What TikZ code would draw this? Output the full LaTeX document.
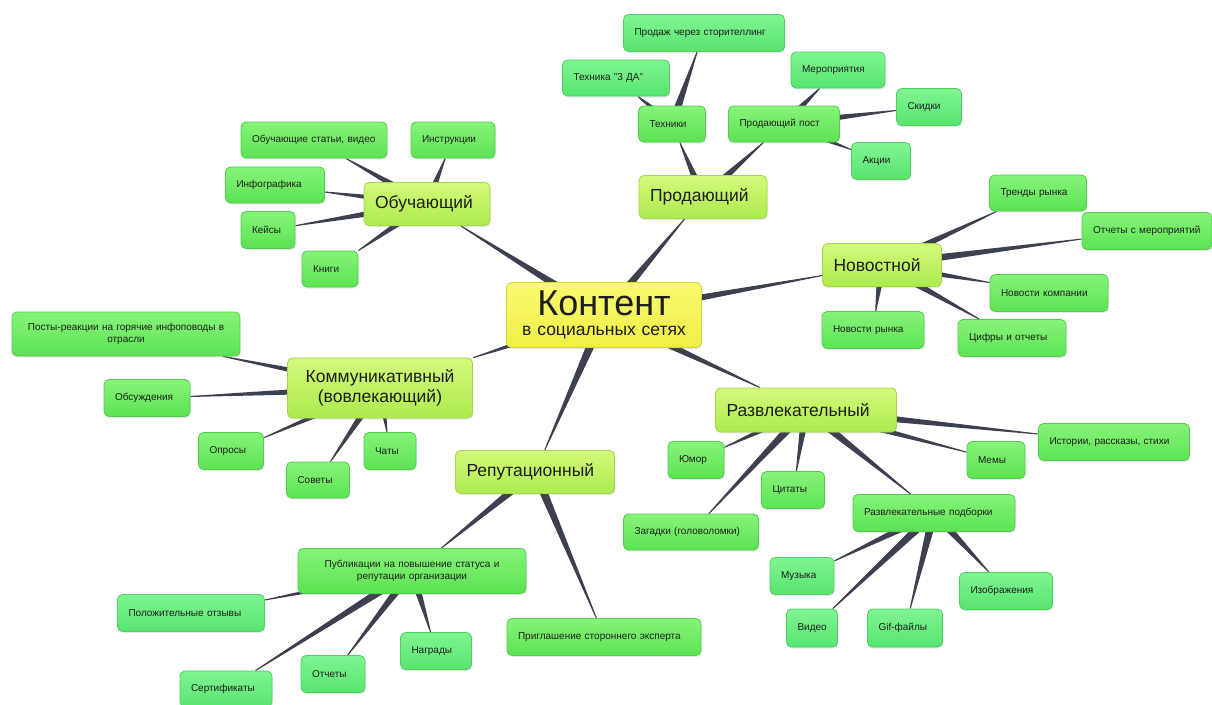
\documentclass[tikz,border=0pt]{standalone}
\usepackage{fontspec}
\setmainfont{Liberation Sans}
\usetikzlibrary{calc,shadows}
\pgfdeclarelayer{background}
\pgfsetlayers{background,main}
\definecolor{roottop}{HTML}{FAFA70}
\definecolor{rootbot}{HTML}{EEEE46}
\definecolor{rootline}{HTML}{D6D448}
\definecolor{lonetop}{HTML}{D4F97A}
\definecolor{lonebot}{HTML}{ADEA4E}
\definecolor{loneline}{HTML}{A0D84E}
\definecolor{ltwotop}{HTML}{86F47A}
\definecolor{ltwobot}{HTML}{5CE252}
\definecolor{ltwoline}{HTML}{50CE4C}
\definecolor{lthreetop}{HTML}{80F592}
\definecolor{lthreebot}{HTML}{56E46E}
\definecolor{lthreeline}{HTML}{4ECF64}
\definecolor{linkc}{HTML}{3D4050}
\definecolor{txt}{HTML}{1E1E1E}
\tikzset{
  base/.style={rounded corners=5pt, draw, line width=0.8pt, text=txt,
    drop shadow={opacity=0.18, shadow xshift=0.6pt, shadow yshift=-1.6pt},
    inner ysep=0pt, inner xsep=11pt, align=left},
  root/.style={base, draw=rootline, top color=roottop, bottom color=rootbot, align=center},
  lone/.style={base, draw=loneline, top color=lonetop, bottom color=lonebot, font=\fontsize{17.5}{20}\selectfont},
  ltwo/.style={base, draw=ltwoline, top color=ltwotop, bottom color=ltwobot, font=\fontsize{10}{12.5}\selectfont},
  lthree/.style={ltwo, draw=lthreeline, top color=lthreetop, bottom color=lthreebot},
  box/.style 2 args={text width=#1, minimum height=#2},
  conn/.style={fill=linkc}
}
\newcommand\mmlink[3][4.5]{%
  \fill[conn] let \p1=(#2), \p2=(#3), \n1={int(atan2(\y1-\y2,\x1-\x2)+360)} in
    ($(#2)!#1pt!90:(#3.\n1)$) -- ($(#2)!#1pt!-90:(#3.\n1)$) --
    ($(#3.\n1)!0.5pt!90:(#2)$) -- ($(#3.\n1)!0.5pt!-90:(#2)$) -- cycle;}
\begin{document}
\begin{tikzpicture}[x=1pt,y=-1pt]
\useasboundingbox (0,0) rectangle (1212,704);

% root
\node[root, box={173pt}{65pt}, font=\fontsize{17.5}{18}\selectfont] (c) at (604,315)
  {{\fontsize{36}{36}\selectfont Контент}\\[2pt]в социальных сетях};

% level 1
\node[lone, box={104pt}{43pt}] (ob) at (427,204) {Обучающий};
\node[lone, box={106pt}{43pt}] (pr) at (703,197) {Продающий};
\node[lone, box={97pt}{43pt}] (nov) at (882,265) {Новостной};
\node[lone, box={163pt}{60pt}, align=center] (kom) at (380,388) {Коммуникативный\\(вовлекающий)};
\node[lone, box={159pt}{44pt}] (raz) at (806,410) {Развлекательный};
\node[lone, box={137pt}{43pt}] (rep) at (535,472) {Репутационный};

% Обучающий
\node[ltwo, box={124pt}{36pt}] (ob1) at (314,140) {Обучающие статьи, видео};
\node[ltwo, box={62pt}{36pt}] (ob2) at (453,140) {Инструкции};
\node[ltwo, box={77pt}{36pt}] (ob3) at (275,185) {Инфографика};
\node[ltwo, box={32pt}{37pt}] (ob4) at (268,230) {Кейсы};
\node[ltwo, box={34pt}{36pt}] (ob5) at (330,269) {Книги};

% Продающий
\node[ltwo, box={45pt}{36pt}] (pr1) at (672,124) {Техники};
\node[ltwo, box={89pt}{36pt}] (pr2) at (784,124) {Продающий пост};
\node[lthree, box={139pt}{37pt}] (pr11) at (704,33) {Продаж через сторителлинг};
\node[lthree, box={85pt}{36pt}] (pr12) at (616,78) {Техника "3 ДА"};
\node[lthree, box={72pt}{36pt}] (pr21) at (838,70) {Мероприятия};
\node[lthree, box={43pt}{37pt}] (pr22) at (929,107) {Скидки};
\node[lthree, box={37pt}{37pt}] (pr23) at (881,161) {Акции};

% Новостной
\node[ltwo, box={75pt}{36pt}] (nov1) at (1038,193) {Тренды рынка};
\node[ltwo, box={108pt}{37pt}] (nov2) at (1147,231) {Отчеты с мероприятий};
\node[ltwo, box={96pt}{37pt}] (nov3) at (1049,293) {Новости компании};
\node[ltwo, box={80pt}{37pt}] (nov4) at (873,330) {Новости рынка};
\node[ltwo, box={86pt}{37pt}] (nov5) at (1012,338) {Цифры и отчеты};

% Коммуникативный
\node[ltwo, box={206pt}{44pt}, align=center] (kom1) at (126,334) {Посты-реакции на горячие инфоповоды в\\отрасли};
\node[ltwo, box={64pt}{37pt}] (kom2) at (147,398) {Обсуждения};
\node[ltwo, box={43pt}{37pt}] (kom3) at (231,451) {Опросы};
\node[ltwo, box={41pt}{36pt}] (kom4) at (318,480) {Советы};
\node[ltwo, box={30pt}{37pt}] (kom5) at (390,451) {Чаты};

% Развлекательный
\node[ltwo, box={34pt}{37pt}] (raz1) at (696,460) {Юмор};
\node[ltwo, box={41pt}{37pt}] (raz2) at (793,490) {Цитаты};
\node[ltwo, box={113pt}{36pt}] (raz3) at (691,532) {Загадки (головоломки)};
\node[ltwo, box={36pt}{37pt}] (raz4) at (996,460) {Мемы};
\node[ltwo, box={129pt}{37pt}] (raz5) at (1114,442) {Истории, рассказы, стихи};
\node[ltwo, box={140pt}{37pt}] (raz6) at (934,513) {Развлекательные подборки};
\node[lthree, box={42pt}{37pt}] (raz61) at (802,576) {Музыка};
\node[lthree, box={29pt}{38pt}] (raz62) at (812,628) {Видео};
\node[lthree, box={53pt}{38pt}] (raz63) at (905,628) {Gif-файлы};
\node[lthree, box={71pt}{37pt}] (raz64) at (1006,591) {Изображения};

% Репутационный
\node[ltwo, box={206pt}{45pt}, align=center] (rep1) at (412,571) {Публикации на повышение статуса и\\репутации организации};
\node[ltwo, box={172pt}{37pt}] (rep2) at (604,637) {Приглашение стороннего эксперта};
\node[lthree, box={125pt}{37pt}] (rep11) at (191,613) {Положительные отзывы};
\node[lthree, box={70pt}{36pt}] (rep12) at (226,689) {Сертификаты};
\node[lthree, box={42pt}{37pt}] (rep13) at (333,674) {Отчеты};
\node[lthree, box={49pt}{37pt}] (rep14) at (436,651) {Награды};

\begin{pgfonlayer}{background}
\fill[white] (0,0) rectangle (1212,704);
\foreach \t in {ob,pr,nov,kom,raz,rep} {\mmlink[5]{c}{\t}}
\foreach \t in {ob1,ob2,ob3,ob4,ob5} {\mmlink{ob}{\t}}
\foreach \t in {pr1,pr2} {\mmlink{pr}{\t}}
\foreach \t in {pr11,pr12} {\mmlink{pr1}{\t}}
\foreach \t in {pr21,pr22,pr23} {\mmlink{pr2}{\t}}
\foreach \t in {nov1,nov2,nov3,nov4,nov5} {\mmlink{nov}{\t}}
\foreach \t in {kom1,kom2,kom3,kom4,kom5} {\mmlink{kom}{\t}}
\foreach \t in {raz1,raz2,raz3,raz4,raz5,raz6} {\mmlink{raz}{\t}}
\foreach \t in {raz61,raz62,raz63,raz64} {\mmlink{raz6}{\t}}
\foreach \t in {rep1,rep2} {\mmlink{rep}{\t}}
\foreach \t in {rep11,rep12,rep13,rep14} {\mmlink{rep1}{\t}}
\end{pgfonlayer}
\end{tikzpicture}
\end{document}
